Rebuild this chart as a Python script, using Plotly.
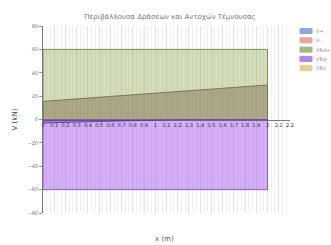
import plotly.graph_objects as go

# ---- data ----
x_m = [0.0, 0.1, 0.2, 0.3, 0.4, 0.5, 0.6, 0.7, 0.8, 0.9, 1.0,
       1.1, 1.2, 1.3, 1.4, 1.5, 1.6, 1.7, 1.8, 1.9, 2.0]
v_pos = [15.5, 16.2, 16.9, 17.6, 18.3, 19.0, 19.7, 20.4, 21.1, 21.8, 22.5,
         23.2, 23.9, 24.6, 25.3, 26.0, 26.7, 27.4, 28.1, 28.8, 29.5]
v_neg = [-3.0, -2.7, -2.4, -2.1, -1.8, -1.5, -1.2, -0.9, -0.6, -0.3, 0.0,
         0.0, 0.0, 0.0, 0.0, 0.0, 0.0, 0.0, 0.0, 0.0, 0.0]
vrd_pos = [60] * 21
vrd_neg = [-60] * 21
v_s = [0] * 21

series_names = ["V+", "V-", "VRd+", "VRd-", "VRs"]
legend_colors = ["rgb(125,150,225)", "rgb(230,150,145)", "rgb(150,170,105)",
                 "rgb(165,110,235)", "rgb(228,200,130)"]

title_text = "Περιβάλλουσα Δράσεων και Αντοχών Τέμνουσας"
y_ticks = [-80, -60, -40, -20, 0, 20, 40, 60, 80]


def poly(xs, ys):
    return [xs[0]] + list(xs) + [xs[-1]], [0] + list(ys) + [0]


fig = go.Figure()

# resistance envelopes (drawn first)
px_, py_ = poly(x_m, vrd_pos)
fig.add_trace(go.Scatter(x=px_, y=py_, fill="toself", mode="lines",
                         line=dict(color="rgb(120,140,80)", width=1),
                         fillcolor="rgba(160,180,105,0.45)", name=series_names[2]))
px_, py_ = poly(x_m, vrd_neg)
fig.add_trace(go.Scatter(x=px_, y=py_, fill="toself", mode="lines",
                         line=dict(color="rgb(140,90,200)", width=1),
                         fillcolor="rgba(170,95,240,0.5)", name=series_names[3]))
# action envelopes
px_, py_ = poly(x_m, v_pos)
fig.add_trace(go.Scatter(x=px_, y=py_, fill="toself", mode="lines",
                         line=dict(color="rgb(130,115,85)", width=1),
                         fillcolor="rgba(115,95,60,0.42)", name=series_names[0]))
px_, py_ = poly(x_m, v_neg)
fig.add_trace(go.Scatter(x=px_, y=py_, fill="toself", mode="lines",
                         line=dict(color="rgb(110,70,170)", width=1),
                         fillcolor="rgba(110,70,180,0.5)", name=series_names[1]))
fig.add_trace(go.Scatter(x=x_m, y=v_s, mode="lines",
                         line=dict(color="rgba(120,80,170,0.8)", width=1),
                         name=series_names[4]))

# manual legend (positions in paper coords)
L, R, T, B = 43, 290, 26, 213
W, H = R - L, B - T
for i, (nm, col) in enumerate(zip(series_names, legend_colors)):
    py = 31 + 9.3 * i
    fig.add_shape(type="rect", xref="paper", yref="paper",
                  x0=(300 - L) / W, x1=(312 - L) / W,
                  y0=(B - py - 2.5) / H, y1=(B - py + 2.5) / H,
                  fillcolor=col, line=dict(color=col, width=1), opacity=0.85)
    fig.add_annotation(xref="paper", yref="paper", x=(314 - L) / W, y=(B - py) / H,
                       text=nm, showarrow=False, xanchor="left", yanchor="middle",
                       font=dict(size=5, color="#888"))

fig.add_annotation(xref="paper", yref="paper", x=(164 - L) / W, y=(B - 239) / H,
                   text="x (m)", showarrow=False, xanchor="center", yanchor="middle",
                   font=dict(size=7, color="#555"))

fig.update_layout(
    width=331, height=245,
    margin=dict(l=L, r=331 - R, t=T, b=245 - B),
    paper_bgcolor="white", plot_bgcolor="white",
    showlegend=False,
    font=dict(family="DejaVu Sans", color="#666"),
    title=dict(text=title_text, x=(170) / 331, xanchor="center",
               y=1 - 17 / 245, yanchor="middle",
               font=dict(size=7, color="#777")),
    xaxis=dict(range=[0, 2.2], dtick=0.1, tick0=0, anchor="free", position=0.5,
               showline=True, linecolor="rgba(80,60,110,0.7)", linewidth=1,
               ticks="", tickfont=dict(size=5, color="#333"),
               showgrid=True, gridcolor="rgba(215,215,215,0.6)", gridwidth=1,
               minor=dict(dtick=0.0333, showgrid=True, gridcolor="rgba(225,225,225,0.5)"),
               zeroline=False),
    yaxis=dict(range=[-80, 80], tickvals=y_ticks, showline=True,
               linecolor="#777", linewidth=1, ticks="outside", ticklen=3,
               tickcolor="#999", tickfont=dict(size=5, color="#777"),
               showgrid=False, zeroline=False,
               title=dict(text="V (kN)", font=dict(size=7, color="#444"), standoff=8)),
)

fig.write_html("out.html", config={"displayModeBar": False},
               post_script="document.body.style.margin='0';")
